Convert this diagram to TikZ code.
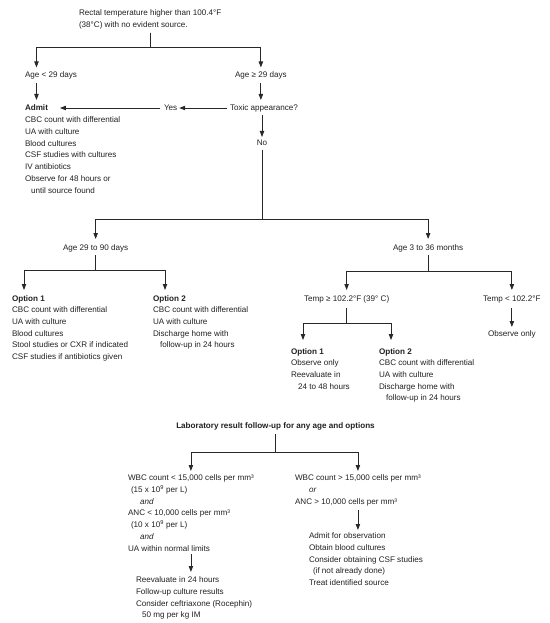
\documentclass[tikz,border=0pt]{standalone}
\usepackage{fontspec}
\setmainfont{Liberation Sans}
\usetikzlibrary{arrows.meta}
\newcommand{\ms}{\rule[-2bp]{0pt}{8bp}}
\newcommand{\fs}{\fontsize{8.1bp}{11.7bp}\selectfont}
\definecolor{ink}{RGB}{35,31,32}
\definecolor{wire}{RGB}{40,40,40}
\begin{document}
\begin{tikzpicture}[x=1bp,y=-1bp,
  every node/.style={inner sep=0pt, outer sep=0pt, anchor=north west, align=left,
    font=\fs, text=ink, execute at begin node=\ms, execute at end node=\ms},
  hd/.style={font=\fs\bfseries},
  arr/.style={draw=wire, line width=0.8bp, -{Triangle[width=4.4bp,length=6bp]},
    shorten <=3bp, shorten >=4.5bp}]
\path[use as bounding box] (0,0) rectangle (550,623);

% top level
\node (title) at (79,10) {Rectal temperature higher than 100.4°F\\(38°C) with no evident source.};
\node (ageA) at (25,72) {Age < 29 days};
\node (ageB) at (235,72) {Age ≥ 29 days};
\node[hd] (admit) at (25,105) {Admit};
\node (admitL) at (25,117) {CBC count with differential\\UA with culture\\Blood cultures\\CSF studies with cultures\\IV antibiotics\\Observe for 48 hours or\\\hspace*{6bp}until source found};
\node (yes) at (164,105) {Yes};
\node (toxic) at (230,105) {Toxic appearance?};
\node[anchor=north] (no) at (262,140) {No};

% second level
\node (ageC) at (63,244) {Age 29 to 90 days};
\node (ageD) at (393,244) {Age 3 to 36 months};
\node[hd] (opt1a) at (12,295) {Option 1};
\node (opt1aL) at (12,307) {CBC count with differential\\UA with culture\\Blood cultures\\Stool studies or CXR if indicated\\CSF studies if antibiotics given};
\node[hd] (opt2a) at (153,295) {Option 2};
\node (opt2aL) at (153,307) {CBC count with differential\\UA with culture\\Discharge home with\\\hspace*{7bp}follow-up in 24 hours};
\node (tempHi) at (304,295) {Temp ≥ 102.2°F (39° C)};
\node (tempLo) at (483,295) {Temp < 102.2°F};
\node (observe) at (488,330) {Observe only};
\node[hd] (opt1b) at (291,348) {Option 1};
\node (opt1bL) at (291,360) {Observe only\\Reevaluate in\\\hspace*{7bp}24 to 48 hours};
\node[hd] (opt2b) at (379,348) {Option 2};
\node (opt2bL) at (379,360) {CBC count with differential\\UA with culture\\Discharge home with\\\hspace*{7bp}follow-up in 24 hours};

% laboratory follow-up
\node[hd, anchor=north] (lab) at (275.5,422) {Laboratory result follow-up for any age and options};
\node (wbcLow) at (128,475) {WBC count < 15,000 cells per mm³\\\hspace*{3bp}(15 x 10\textsuperscript{9} per L)\\\hspace*{12bp}\textit{and}\\ANC < 10,000 cells per mm³\\\hspace*{3bp}(10 x 10\textsuperscript{9} per L)\\\hspace*{12bp}\textit{and}\\UA within normal limits};
\node (wbcHigh) at (295,475) {WBC count > 15,000 cells per mm³\\\hspace*{14bp}\textit{or}\\ANC > 10,000 cells per mm³};
\node (reeval) at (136,577) {Reevaluate in 24 hours\\Follow-up culture results\\Consider ceftriaxone (Rocephin)\\\hspace*{6bp}50 mg per kg IM};
\node (admitObs) at (309,533) {Admit for observation\\Obtain blood cultures\\Consider obtaining CSF studies\\\hspace*{4bp}(if not already done)\\Treat identified source};

% connectors
\draw[arr] (title.south) -- ++(0,18) -| (ageA.north -| admit.north);
\draw[arr] (title.south) -- ++(0,18) -| (ageB.north);
\draw[arr, shorten >=5bp] (ageA.south -| admit.north) -- (admit.north);
\draw[arr, shorten >=5bp] (ageB.south) -- (ageB.south |- toxic.north);
\draw[arr, shorten >=2bp] ([yshift=1bp]toxic.west) -- ([yshift=1bp]yes.east);
\draw[arr, shorten <=4bp, shorten >=12bp] ([yshift=1bp]yes.west) -- ([yshift=1bp]admit.east);
\draw[arr, shorten <=2bp, shorten >=3bp] (no.north |- toxic.south) -- (no.north);
\draw[arr, shorten <=2bp, shorten >=5bp] (no.south) -- ++(0,71) -| (ageC.north);
\draw[arr, shorten <=2bp, shorten >=5bp] (no.south) -- ++(0,71) -| (ageD.north);
\draw[arr, shorten >=5bp] (ageC.south) -- ++(0,18) -| ([xshift=12bp]opt1a.north west);
\draw[arr, shorten >=5bp] (ageC.south) -- ++(0,18) -| ([xshift=12bp]opt2a.north west);
\draw[arr, shorten >=5bp] (ageD.south) -- ++(0,19) -| (tempHi.north);
\draw[arr, shorten >=5bp] (ageD.south) -- ++(0,19) -| (tempLo.north -| observe.north);
\draw[arr, shorten <=5bp, shorten >=8bp] (tempHi.south) -- ++(0,20) -| ([xshift=12bp]opt1b.north west);
\draw[arr, shorten <=5bp, shorten >=8bp] (tempHi.south) -- ++(0,20) -| ([xshift=12bp]opt2b.north west);
\draw[arr, shorten <=5bp, shorten >=3bp] (tempLo.south -| observe.north) -- (observe.north);
\draw[arr, shorten <=4bp, shorten >=4bp] (lab.south) -- ++(0,22) -| (wbcLow.north);
\draw[arr, shorten <=4bp, shorten >=4bp] (lab.south) -- ++(0,22) -| (wbcHigh.north);
\draw[arr, shorten <=1bp, shorten >=5bp] (wbcLow.south) -- (wbcLow.south |- reeval.north);
\draw[arr, shorten <=4bp, shorten >=3bp] (wbcHigh.south) -- (wbcHigh.south |- admitObs.north);
\end{tikzpicture}
\end{document}
